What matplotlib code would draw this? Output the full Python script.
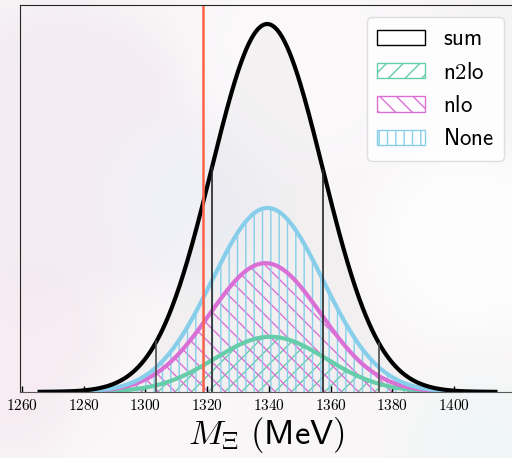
import numpy as np
import matplotlib
matplotlib.use("Agg")
import matplotlib.pyplot as plt
from matplotlib.patches import Patch
from matplotlib.ticker import FuncFormatter

plt.rcParams['mathtext.fontset'] = 'cm'
plt.rcParams['hatch.linewidth'] = 1.0

# gaussian components (MeV)
labels = ['n2lo', 'nlo', 'None']
means = [1340.5, 1338.9, 1339.6]
sigmas = [18.0, 18.0, 18.0]
weights = [0.15, 0.35, 0.50]
colors = ['mediumaquamarine', 'orchid', 'skyblue']
hatches = ['//', '\\\\', '||']

sum_mean = 1339.6
sum_sigma = 18.0
marker_mass = 1318.8
xticks = [1260, 1280, 1300, 1320, 1340, 1360, 1380, 1400]

W, H = 512, 458
fig = plt.figure(figsize=(W / 100, H / 100), dpi=100)

# soft blurred background
bg = fig.add_axes([0, 0, 1, 1], zorder=-10)
yy, xx = np.mgrid[0:H, 0:W]
img = np.ones((H, W, 3)) * np.array([0.975, 0.965, 0.97])


def blob(cx, cy, r, col, strength):
    d = np.sqrt((xx - cx) ** 2 + (yy - cy) ** 2)
    m = strength / (1 + np.exp((d - r) / 12.0))
    for k in range(3):
        img[:, :, k] = img[:, :, k] * (1 - m) + col[k] * m


blob(60, 150, 150, (0.95, 0.92, 0.94), 0.8)
blob(20, 360, 90, (0.96, 0.90, 0.93), 0.6)
blob(190, 200, 80, (0.94, 0.945, 0.975), 0.8)
blob(470, 240, 95, (0.995, 0.995, 0.995), 0.9)
blob(300, 60, 110, (0.985, 0.98, 0.985), 0.6)
blob(500, 60, 80, (0.95, 0.95, 0.955), 0.5)
blob(480, 450, 70, (0.93, 0.97, 0.965), 0.6)
blob(150, 440, 90, (0.985, 0.975, 0.98), 0.6)
bg.imshow(np.clip(img, 0, 1), aspect='auto', interpolation='bilinear')
bg.axis('off')

ax = fig.add_axes([20 / W, 66 / H, 1 - 20 / W, 387 / H])
ax.patch.set_alpha(0)

x = np.linspace(sum_mean - 4.1 * sum_sigma, sum_mean + 4.1 * sum_sigma, 600)


def gauss(x, m, s, w):
    return w * np.exp(-0.5 * ((x - m) / s) ** 2) / (s * np.sqrt(2 * np.pi))


comps = [gauss(x, m, s, w) for m, s, w in zip(means, sigmas, weights)]
total = np.sum(comps, axis=0)

ax.fill_between(x, 0, total, facecolor='0.5', alpha=0.05, linewidth=0)
for y, c, h in zip(comps, colors, hatches):
    ax.fill_between(x, 0, y, facecolor='none', edgecolor=c, hatch=h, linewidth=0)
for y, c in zip(comps, colors):
    ax.plot(x, y, color=c, lw=3)
ax.plot(x, total, color='black', lw=3)

# 1 and 2 sigma markers
for k, col in [(1, '0.15'), (2, '0.3')]:
    for sgn in (-1, 1):
        xv = sum_mean + sgn * k * sum_sigma
        yv = np.interp(xv, x, total)
        ax.plot([xv, xv], [0, yv], color=col, lw=1.2)

ax.axvline(marker_mass, color='tomato', lw=1.8)

ymax = total.max() * 387 / 368
ax.set_xlim(1259.4, 1418.8)
ax.set_ylim(0, ymax)
ax.set_yticks([])
ax.set_xticks(xticks)
ax.xaxis.set_major_formatter(FuncFormatter(lambda v, p: f'${v:.0f}$'))
ax.tick_params(axis='x', direction='in', length=4, width=1, labelsize=11, pad=4)
ax.spines['right'].set_visible(False)
for s in ['left', 'top']:
    ax.spines[s].set_color('0.15')
ax.spines['bottom'].set_color('0.35')
ax.set_xlabel(r'$M_\Xi\ \mathsf{(MeV)}$', fontsize=25, labelpad=2)

handles = [Patch(facecolor='white', edgecolor='black', label=r'$\mathsf{sum}$')]
for l, c, h in zip(labels, colors, hatches):
    handles.append(Patch(facecolor='white', edgecolor=c, hatch=h, label=r'$\mathsf{' + l + '}$'))
fig.legend(handles=handles, loc='upper right', bbox_to_anchor=(504 / W, 1 - 17 / H),
           fontsize=16.5, handlelength=2.1, handleheight=0.65, labelspacing=0.45,
           handletextpad=0.75, borderpad=0.45, borderaxespad=0, fancybox=True,
           framealpha=0.85, edgecolor='0.85')

fig.savefig('out.png', dpi=100)
